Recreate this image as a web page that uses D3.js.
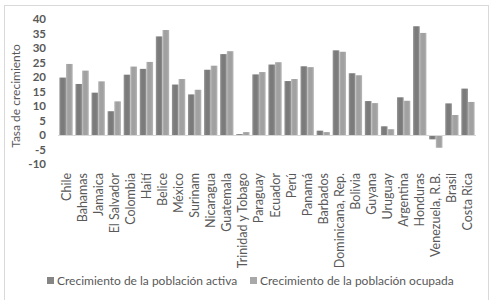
<!DOCTYPE html>
<html>
<head>
<meta charset="utf-8">
<script src="https://cdn.jsdelivr.net/npm/d3@7"></script>
<style>
  body { margin: 0; background: #fff; }
  svg text { font-family: Lato, "Open Sans", sans-serif; fill: #595959; }
</style>
</head>
<body>
<svg id="chart" width="493" height="300"></svg>
<script>
const countries = ["Chile", "Bahamas", "Jamaica", "El Salvador", "Colombia", "Haití", "Belice", "México",
  "Surinam", "Nicaragua", "Guatemala", "Trinidad y Tobago", "Paraguay", "Ecuador", "Perú", "Panamá",
  "Barbados", "Dominicana, Rep.", "Bolivia", "Guyana", "Uruguay", "Argentina", "Honduras",
  "Venezuela, R.B.", "Brasil", "Costa Rica"];
// growth of active population
const activa = [19.8, 17.6, 14.6, 8.2, 20.8, 22.8, 34.0, 17.4, 14.0, 22.5, 27.9, 0.3, 20.9, 24.3, 18.6, 23.7,
  1.5, 29.2, 21.3, 11.7, 3.0, 13.0, 37.5, -1.5, 10.9, 16.0];
// growth of employed population
const ocupada = [24.5, 22.2, 18.5, 11.6, 23.6, 25.2, 36.2, 19.3, 15.6, 23.9, 28.9, 1.0, 21.7, 25.1, 19.3, 23.4,
  1.0, 28.7, 20.6, 11.0, 2.0, 11.8, 35.2, -4.4, 6.9, 11.4];
const yTicks = [-10, -5, 0, 5, 10, 15, 20, 25, 30, 35, 40];
const seriesNames = ["Crecimiento de la población activa", "Crecimiento de la población ocupada"];

const svg = d3.select("#chart");

//gradients for the bars
const defs = svg.append("defs");
function addGrad(id, edge, mid) {
  const g = defs.append("linearGradient").attr("id", id)
    .attr("x1", "0%").attr("x2", "100%").attr("y1", "0%").attr("y2", "0%");
  g.append("stop").attr("offset", "0%").attr("stop-color", edge);
  g.append("stop").attr("offset", "30%").attr("stop-color", mid);
  g.append("stop").attr("offset", "70%").attr("stop-color", mid);
  g.append("stop").attr("offset", "100%").attr("stop-color", edge);
}
addGrad("gDark", "#979797", "#7b7b7b");
addGrad("gLight", "#b8b8b8", "#a1a1a1");
const fills = ["url(#gDark)", "url(#gLight)"];
const legendFills = ["#858585", "#a8a8a8"];

//chart frame
svg.append("rect")
  .attr("x", 4.5).attr("y", 5.5)
  .attr("width", 484).attr("height", 310)
  .attr("fill", "none").attr("stroke", "#d9d9d9");

const x = d3.scaleBand().domain(countries).range([58, 476]).paddingInner(0.17).paddingOuter(0.085);
const xs = d3.scaleBand().domain([0, 1]).range([0, x.bandwidth()]);
const y = d3.scaleLinear().domain([-10, 40]).range([164, 19]);

//y axis labels
svg.append("g").selectAll("text")
  .data(yTicks)
  .enter()
  .append("text")
  .attr("x", 46)
  .attr("y", d => y(d))
  .attr("dy", "0.35em")
  .attr("text-anchor", "end")
  .style("font-size", "11.5px")
  .style("font-weight", "bold")
  .text(d => d);

svg.append("text")
  .attr("transform", "translate(20," + 96 + ")rotate(-90)")
  .attr("text-anchor", "middle")
  .style("font-size", "12px")
  .text("Tasa de crecimiento");

//bars
const series = [activa, ocupada];
series.forEach((vals, i) => {
  svg.append("g").selectAll("rect")
    .data(vals)
    .enter()
    .append("rect")
    .attr("x", (d, j) => x(countries[j]) + xs(i))
    .attr("y", d => y(Math.max(0, d)))
    .attr("width", xs.bandwidth())
    .attr("height", d => Math.abs(y(d) - y(0)))
    .attr("fill", fills[i]);
});

//zero line
svg.append("line")
  .attr("x1", 58).attr("x2", 476)
  .attr("y1", y(0) + 0.5).attr("y2", y(0) + 0.5)
  .attr("stroke", "#d9d9d9");

//category labels
svg.append("g").selectAll("text")
  .data(countries)
  .enter()
  .append("text")
  .attr("transform", d => "translate(" + (x(d) + x.bandwidth() / 2 + 4.5) + ",173)rotate(-90)")
  .attr("text-anchor", "end")
  .style("font-size", "12.5px")
  .text(d => d);

//legend
const legend = svg.append("g");
const legX = [47, 250];
seriesNames.forEach((name, i) => {
  legend.append("rect")
    .attr("x", legX[i]).attr("y", 277)
    .attr("width", 7).attr("height", 7)
    .attr("fill", legendFills[i]);
  legend.append("text")
    .attr("x", legX[i] + 10).attr("y", 281)
    .attr("dy", "0.35em")
    .style("font-size", "12px")
    .text(name);
});
</script>
</body>
</html>
